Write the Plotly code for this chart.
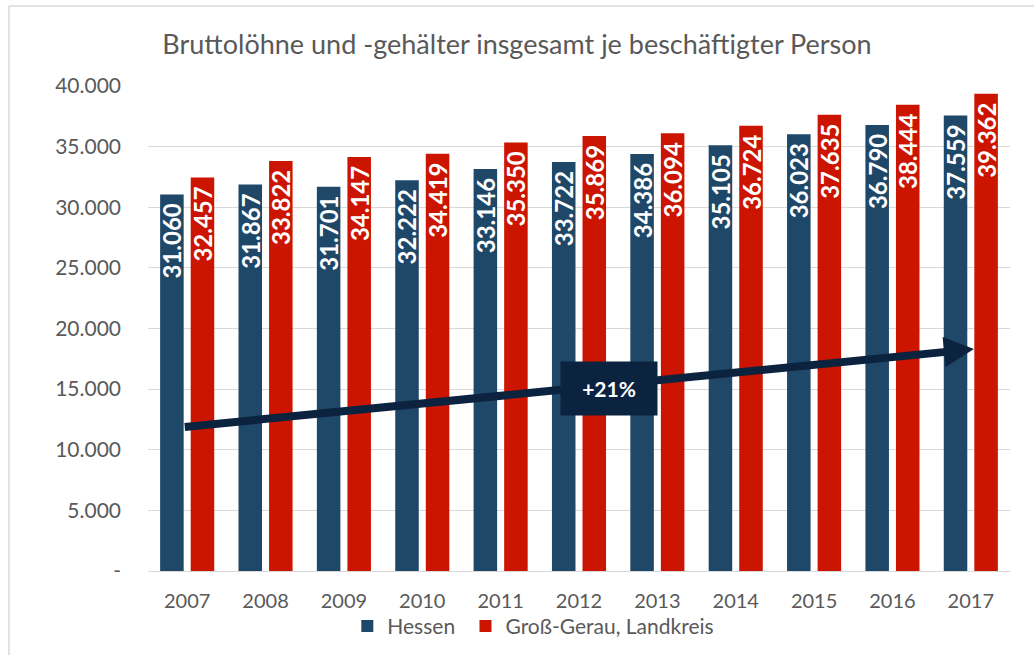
import plotly.graph_objects as go

years = ["2007", "2008", "2009", "2010", "2011", "2012", "2013", "2014", "2015", "2016", "2017"]
hessen = [31060, 31867, 31701, 32222, 33146, 33722, 34386, 35105, 36023, 36790, 37559]
gross_gerau = [32457, 33822, 34147, 34419, 35350, 35869, 36094, 36724, 37635, 38444, 39362]
tick_vals = [0, 5000, 10000, 15000, 20000, 25000, 30000, 35000, 40000]
tick_text = ["-", "5.000", "10.000", "15.000", "20.000", "25.000", "30.000", "35.000", "40.000"]
title_text = "Bruttolöhne und -gehälter insgesamt je beschäftigter Person"
series_names = ["Hessen", "Groß-Gerau, Landkreis"]
growth_label = "+21%"

# arrow (annotation) endpoints in axis units
arrow_start = (-0.05, 11870)
arrow_end = (10.04, 18300)
label_pos = (5.38, 15090)

BLUE = "#1F4768"
RED = "#CC1500"
NAVY = "#0C2340"
GRAY = "#595959"
FONT = "Lato"

fig = go.Figure()
for name, vals, col in [(series_names[0] + "&nbsp;", hessen, BLUE), (series_names[1], gross_gerau, RED)]:
    fig.add_trace(go.Bar(
        x=years, y=vals, name=name, marker=dict(color=col, line=dict(width=0)),
        texttemplate="%{y:,.0f}&nbsp;", textposition="inside", textangle=-90,
        insidetextanchor="end", constraintext="none",
        textfont=dict(family=FONT, size=24, color="white", weight="bold"),
        hoverinfo="skip",
    ))

fig.add_annotation(
    x=arrow_end[0], y=arrow_end[1], ax=arrow_start[0], ay=arrow_start[1],
    xref="x", yref="y", axref="x", ayref="y", text="", showarrow=True,
    arrowhead=2, arrowwidth=8, arrowsize=0.75, arrowcolor=NAVY,
)
fig.add_annotation(
    x=label_pos[0], y=label_pos[1], xref="x", yref="y", text="<b>" + growth_label + "</b>",
    showarrow=False, bgcolor=NAVY, font=dict(family=FONT, size=21, color="white"),
    width=90, height=47, borderpad=3,
)

# outer frame (top and left edges visible)
fig.add_shape(type="line", xref="paper", yref="paper", x0=-0.1613, x1=1.5, y0=1.165, y1=1.165,
              line=dict(color="#D9D9D9", width=1.5))
fig.add_shape(type="line", xref="paper", yref="paper", x0=-0.1613, x1=-0.1613, y0=-1, y1=1.165,
              line=dict(color="#D9D9D9", width=1.5))

fig.update_layout(
    width=1034, height=655,
    margin=dict(l=148, r=24, t=86, b=84, autoexpand=False),
    paper_bgcolor="white", plot_bgcolor="white",
    separators=",.",
    barmode="group", bargap=0.22, bargroupgap=0.23,
    uniformtext=dict(minsize=24, mode="show"),
    title=dict(text=title_text, x=0.5, xref="container", xanchor="center",
               y=1 - 45 / 655, yref="container", yanchor="middle",
               font=dict(family=FONT, size=27, color=GRAY)),
    font=dict(family=FONT, color=GRAY),
    showlegend=True,
    legend=dict(orientation="h", x=0.447, xanchor="center", y=-0.072, yanchor="top",
                font=dict(family=FONT, size=21, color=GRAY), itemwidth=30,
                bgcolor="rgba(0,0,0,0)"),
    xaxis=dict(type="category", showgrid=False, showline=True, linecolor="#D9D9D9", linewidth=1,
               automargin=False,
               ticks="", tickfont=dict(family=FONT, size=20, color=GRAY), ticklabelstandoff=12),
    yaxis=dict(range=[0, 40000], tickvals=tick_vals, ticktext=tick_text, showgrid=True,
               automargin=False,
               gridcolor="#D9D9D9", gridwidth=1, zeroline=False, showline=False, ticks="",
               tickfont=dict(family=FONT, size=21, color=GRAY), ticklabelstandoff=26),
)

fig.write_html("out.html", config={"displayModeBar": False},
               post_script="document.body.style.margin='0';document.body.style.overflow='hidden';")
